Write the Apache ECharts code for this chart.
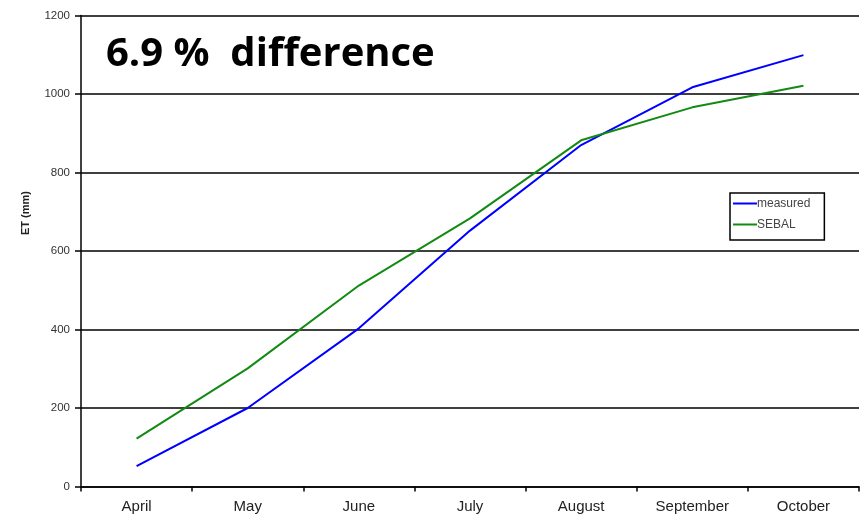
<!DOCTYPE html>
<html>
<head>
<meta charset="utf-8">
<script src="https://cdn.jsdelivr.net/npm/echarts@6/dist/echarts.min.js"></script>
<style>
  html, body { margin: 0; padding: 0; background: #fff; }
  #chart { width: 866px; height: 523px; }
</style>
</head>
<body>
<div id="chart"></div>
<script>
// Monthly cumulative evapotranspiration, measured vs. SEBAL estimate
const months = ['April', 'May', 'June', 'July', 'August', 'September', 'October'];
const measured = [52, 200, 403, 652, 870, 1017, 1099];
const sebal = [122, 301, 512, 683, 882, 966, 1021];
const headline = '6.9 %  difference';
const yTitle = 'ET (mm)';
const yTicks = { min: 0, max: 1200, step: 200 };

const chart = echarts.init(document.getElementById('chart'), null, { renderer: 'canvas' });

const axisFont = 'Liberation Sans, Arial, sans-serif';

chart.setOption({
  animation: false,
  backgroundColor: '#ffffff',
  grid: { left: 81, right: 7, top: 15.5, bottom: 36.5, containLabel: false },
  graphic: [
    {
      type: 'text',
      x: 106,
      y: 35,
      style: {
        text: headline,
        font: 'bold 40px "Open Sans", sans-serif',
        fill: '#000'
      }
    },
    {
      type: 'text',
      x: 26,
      y: 213,
      rotation: Math.PI / 2,
      style: {
        text: yTitle,
        font: 'bold 11px Liberation Sans, Arial, sans-serif',
        fill: '#222',
        align: 'center',
        verticalAlign: 'middle'
      }
    }
  ],
  legend: {
    orient: 'vertical',
    left: 730,
    top: 193,
    padding: [4, 14, 9, 3],
    itemGap: 8,
    itemWidth: 24,
    itemHeight: 2,
    borderColor: '#000',
    borderWidth: 1.5,
    icon: 'rect',
    textStyle: { fontFamily: axisFont, fontSize: 12, color: '#444', padding: [0, 0, 0, -5], lineHeight: 13 },
    data: ['measured', 'SEBAL']
  },
  xAxis: {
    type: 'category',
    data: months,
    boundaryGap: true,
    axisLine: { lineStyle: { color: '#000', width: 1.5 } },
    axisTick: { show: true, length: 5, lineStyle: { color: '#000', width: 1.5 } },
    axisLabel: { fontFamily: axisFont, fontSize: 15, color: '#222', margin: 13 },
    splitLine: { show: false }
  },
  yAxis: {
    type: 'value',
    min: yTicks.min,
    max: yTicks.max,
    interval: yTicks.step,
    axisLine: { show: true, lineStyle: { color: '#000', width: 1.5 } },
    axisTick: { show: true, length: 6, lineStyle: { color: '#000', width: 1.5 } },
    axisLabel: {
      fontFamily: axisFont, fontSize: 11.5, color: '#333', margin: 11,
      formatter: (v) => String(v)
    },
    splitLine: { show: true, lineStyle: { color: '#000', width: 1.5 } }
  },
  series: [
    {
      name: 'measured',
      type: 'line',
      data: measured,
      showSymbol: false,
      symbol: 'none',
      lineStyle: { color: '#0000ff', width: 2 },
      itemStyle: { color: '#0000ff' }
    },
    {
      name: 'SEBAL',
      type: 'line',
      data: sebal,
      showSymbol: false,
      symbol: 'none',
      lineStyle: { color: '#138a13', width: 2 },
      itemStyle: { color: '#138a13' }
    }
  ]
});
</script>
</body>
</html>
